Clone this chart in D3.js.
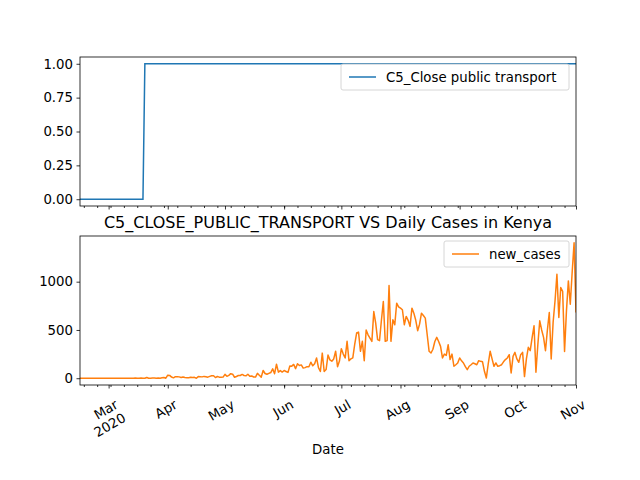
<!DOCTYPE html>
<html><head><meta charset="utf-8">
<script src="https://cdn.jsdelivr.net/npm/d3@7"></script>
<style>body{margin:0;background:#fff}text{font-family:"DejaVu Sans",sans-serif}</style>
</head><body><svg id="c" width="640" height="480"></svg>
<script>
const startDate = "2020-02-15";
const policyChangeDay = 34; // index of first day with value 1
const policyLabel = "C5_Close public transport";
const casesLabel = "new_cases";
const policyValues = d3.range(261).map(i => i < policyChangeDay ? 0 : 1);
const newCases = [
0,0,0,0,0,0,0,0,0,0,0,0,0,0,0,0,0,0,0,0,0,0,0,0,0,0,0,
1,0,2,0,0,3,0,0,8,0,1,3,3,0,3,0,4,8,0,
32,29,12,4,16,16,14,7,12,7,6,6,11,8,9,0,17,16,14,19,15,11,19,26,26,7,18,11,10,12,
40,20,30,47,42,10,18,28,28,39,28,25,41,20,24,13,12,50,30,11,80,49,41,50,59,97,47,145,63,79,64,
80,70,60,126,125,143,99,150,131,138,105,110,120,118,166,129,151,210,110,70,260,70,90,240,190,176,200,280,120,178,
306,250,210,382,182,200,210,350,468,478,279,382,182,500,450,416,382,690,571,400,389,600,795,382,390,960,382,605,554,777,740,
726,709,554,640,600,537,726,674,600,492,560,674,650,623,450,279,261,300,380,423,380,330,210,250,237,347,193,250,124,140,158,
210,180,158,120,89,124,140,158,150,140,182,175,170,72,3,150,279,200,124,158,124,130,140,170,193,210,244,55,227,268,
200,165,244,268,17,200,320,285,420,543,62,350,595,500,423,285,500,680,200,578,800,1077,630,940,900,278,700,1008,767,1100,1403,
680];
const monthTicks = ["2020-03-01","2020-04-01","2020-05-01","2020-06-01","2020-07-01","2020-08-01","2020-09-01","2020-10-01","2020-11-01"];
const monthLabels = ["Mar","Apr","May","Jun","Jul","Aug","Sep","Oct","Nov"];
const topTicks = [0,0.25,0.5,0.75,1.0];
const bottomTicks = [0,500,1000];

const parse = d3.timeParse("%Y-%m-%d");
const t0 = parse(startDate);
const dates = newCases.map((_, i) => d3.timeDay.offset(t0, i));
const svg = d3.select("#c");
const L = 80, R = 576;
const x = d3.scaleTime().domain([t0, parse("2020-11-01")]).range([L, R]);
const yTop = d3.scaleLinear().domain([-0.05, 1.05]).range([206, 57]);
const cmax = d3.max(newCases);
const yBot = d3.scaleLinear().domain([-0.05*cmax, 1.05*cmax]).range([385, 236]);
const minorTicks = d3.timeMonday.range(t0, parse("2020-11-02"));

function frame(y0, y1, yScale, ticks, fmt, showX) {
  const g = svg.append("g");
  const ax = g.append("g").attr("transform", `translate(0,${y1})`)
    .call(d3.axisBottom(x).tickValues(monthTicks.map(parse)).tickSize(3.5).tickFormat(""));
  ax.select(".domain").remove();
  const axm = g.append("g").attr("transform", `translate(0,${y1})`)
    .call(d3.axisBottom(x).tickValues(minorTicks).tickSize(2).tickFormat(""));
  axm.select(".domain").remove();
  g.selectAll(".tick line").attr("stroke", "#000").attr("stroke-width", 0.8);
  const ay = g.append("g").attr("transform", `translate(${L},0)`)
    .call(d3.axisLeft(yScale).tickValues(ticks).tickSize(3.5).tickPadding(3.5).tickFormat(fmt));
  ay.select(".domain").remove();
  ay.selectAll("text").attr("font-size", 13.3).attr("fill", "#000");
  ay.selectAll("line").attr("stroke-width", 0.8);
  if (showX) {
    ax.selectAll(".tick").each(function(d, i) {
      const t = d3.select(this).append("text").attr("fill", "#000").attr("font-size", 13.3)
        .attr("text-anchor", "end").attr("transform", "translate(4,12) rotate(-30)");
      t.append("tspan").attr("x", 0).attr("dy", "0.9em").text(monthLabels[i]);
      if (i === 0) t.append("tspan").attr("x", 0).attr("dy", "1.15em").text("2020");
    });
  }
  return g;
}
function box(y0, y1) {
  svg.append("rect").attr("x", L).attr("y", y0).attr("width", R - L).attr("height", y1 - y0)
    .attr("fill", "none").attr("stroke", "#000").attr("stroke-width", 0.8);
}
frame(57, 206, yTop, topTicks, d3.format(".2f"), false);
frame(236, 385, yBot, bottomTicks, d3.format("d"), true);

svg.append("path").datum(policyValues).attr("fill", "none").attr("stroke", "#1f77b4").attr("stroke-width", 1.5)
  .attr("d", d3.line().x((d, i) => x(dates[i])).y(d => yTop(d)));
svg.append("defs").append("clipPath").attr("id", "cb").append("rect")
  .attr("x", L).attr("y", 236).attr("width", R - L).attr("height", 149);
svg.append("path").datum(newCases).attr("fill", "none").attr("stroke", "#ff7f0e").attr("stroke-width", 1.5)
  .attr("clip-path", "url(#cb)").attr("stroke-linejoin", "round")
  .attr("d", d3.line().x((d, i) => x(dates[i])).y(d => yBot(d)));
box(57, 206); box(236, 385);

function legend(x0, y0, w, color, label) {
  svg.append("rect").attr("x", x0).attr("y", y0).attr("width", w).attr("height", 26).attr("rx", 2)
    .attr("fill", "#fff").attr("fill-opacity", 0.8).attr("stroke", "#ccc").attr("stroke-width", 0.8);
  svg.append("line").attr("x1", x0 + 8).attr("x2", x0 + 35).attr("y1", y0 + 13).attr("y2", y0 + 13)
    .attr("stroke", color).attr("stroke-width", 1.5);
  svg.append("text").attr("x", x0 + 45).attr("y", y0 + 18).attr("font-size", 13.3).text(label);
}
legend(341, 64, 228, "#1f77b4", policyLabel);
legend(444, 241, 125, "#ff7f0e", casesLabel);

svg.append("text").attr("x", 328).attr("y", 228).attr("text-anchor", "middle").attr("font-size", 16)
  .text("C5_CLOSE_PUBLIC_TRANSPORT VS Daily Cases in Kenya");
svg.append("text").attr("x", 328).attr("y", 454).attr("text-anchor", "middle").attr("font-size", 13.3).text("Date");
</script></body></html>
